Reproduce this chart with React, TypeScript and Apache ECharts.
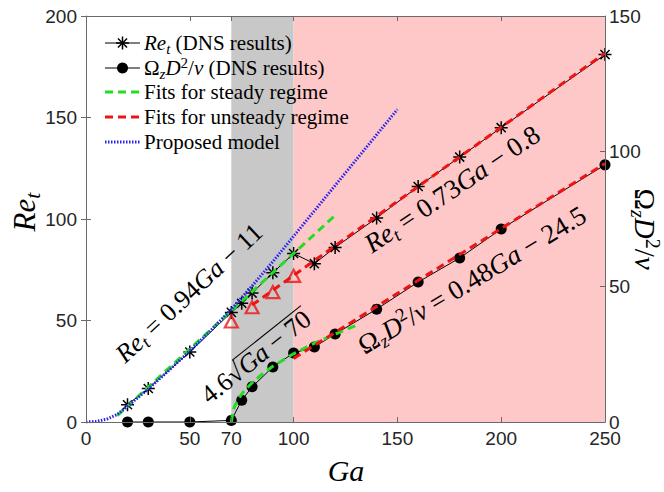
import React, { useEffect, useRef } from 'react';
import * as echarts from 'echarts';

// DNS results: Ga, Re_t (left axis) and Omega_z D^2/nu (right axis)
const gaDns = [20, 30, 50, 70, 75, 80, 90, 100, 110, 120, 140, 160, 180, 200, 250];
const reDns = [8.5, 16.5, 34.5, 54, 58.5, 63.5, 73.5, 83, 78, 86, 100.5, 116, 130.5, 145, 181];
const omegaDns = [0, 0, 0, 0.6, 8, 13, 20.3, 25.5, 27.7, 32.5, 41.7, 51.7, 60.6, 71.3, 95];

// Re_t of the unsteady fit extended into the steady range
const gaTriangles = [70, 80, 90, 100];
const reTriangles = [49.5, 56.5, 64, 72];

// Fits for steady regime
const gaSteadyRe = [15, 120];
const reSteadyFit = [3.1, 101.8]; // 0.94Ga - 11
const gaSteadyOmega = [70, 71, 72, 74, 76, 80, 85, 90, 100, 110, 120, 130];
const omegaSteadyFit = [0, 4.6, 6.5, 9.2, 11.3, 14.5, 17.8, 20.6, 25.2, 29.1, 32.5, 35.6]; // 4.6 sqrt(Ga - 70)

// Fits for unsteady regime
const gaUnsteadyRe = [80, 250];
const reUnsteadyFit = [57.6, 181.7]; // 0.73Ga - 0.8
const gaUnsteadyOmega = [100, 250];
const omegaUnsteadyFit = [23.5, 95.5]; // 0.48Ga - 24.5

// Proposed model
const gaModel = [0, 5, 10, 15, 20, 25, 30, 40, 50, 60, 70, 80, 90, 100, 110, 120, 130, 140, 150];
const reModel = [0, 0.3, 1.4, 3.7, 7.8, 12, 16.3, 25.5, 35, 45, 55.5, 67, 79, 91.5, 104, 116.5, 129, 141.5, 154];

// Regime boundaries: steady | transitional (grey) | unsteady (pink)
const regimeBounds = [70, 100, 250];

const xTickLabels = [0, 50, 70, 100, 150, 200, 250];
const xTickMarks = [50, 70, 100, 150, 200];

const SERIF = '"Liberation Serif", "Times New Roman", serif';
const SANS = '"Liberation Sans", Arial, Helvetica, sans-serif';
const AXIS = '#6a6a6a';
const TICK_TEXT = '#262626';
const GREY = '#c8c8c8';
const PINK = '#ffc8c8';
const GREEN = '#22dd22';
const RED = '#ee1414';
const BLUE = '#2a22ee';

const STAR = 'path://M0,-1L0,1M-1,0L1,0M-0.7,-0.7L0.7,0.7M-0.7,0.7L0.7,-0.7';

const zip = (xs: number[], ys: number[]) => xs.map((x, i) => [x, ys[i]]);
const deg = (d: number) => (d * Math.PI) / 180;

function richSet(size: number) {
  return {
    it: { fontFamily: SERIF, fontStyle: 'italic', fontSize: size },
    rm: { fontFamily: SERIF, fontSize: size },
    sb: { fontFamily: SERIF, fontStyle: 'italic', fontSize: Math.round(size * 0.7), padding: [Math.round(size * 0.5), 0, 0, 0] },
    sp: { fontFamily: SERIF, fontSize: Math.round(size * 0.7), padding: [0, 0, Math.round(size * 0.5), 0] },
  };
}

function mathText(x: number, y: number, rot: number, text: string, size: number, align = 'center') {
  return {
    type: 'text',
    x,
    y,
    rotation: rot,
    z: 100,
    silent: true,
    style: {
      text,
      rich: richSet(size),
      fontFamily: SERIF,
      fontSize: size,
      fill: '#000',
      textAlign: align,
      align,
      textVerticalAlign: 'middle',
      verticalAlign: 'middle',
    },
  };
}

let measureCtx: CanvasRenderingContext2D | null = null;
function textWidth(text: string, font: string) {
  if (!measureCtx) measureCtx = document.createElement('canvas').getContext('2d');
  measureCtx!.font = font;
  return measureCtx!.measureText(text).width;
}

function sqrtAnnotation(x: number, y: number, rot: number, size: number) {
  const reg = `${size}px "Liberation Serif"`;
  const ital = `italic ${size}px "Liberation Serif"`;
  const wA = textWidth('4.6√', reg);
  const wB = textWidth('Ga', ital);
  const wC = textWidth(' − 70', reg);
  const W = wA + wB + wC;
  const barY = -size * 0.47;
  return {
    type: 'group',
    x,
    y,
    rotation: rot,
    z: 100,
    silent: true,
    children: [
      {
        type: 'text',
        z: 100,
        style: {
          text: '{rm|4.6√}{it|Ga}{rm| − 70}',
          rich: richSet(size),
          fontFamily: SERIF,
          fontSize: size,
          fill: '#000',
          textAlign: 'center',
          align: 'center',
          textVerticalAlign: 'middle',
          verticalAlign: 'middle',
        },
      },
      {
        type: 'line',
        z: 100,
        shape: { x1: -W / 2 + wA - 1.5, y1: barY, x2: W / 2 + 1, y2: barY },
        style: { stroke: '#000', lineWidth: 1.1 },
      },
    ],
  };
}

function legendGraphics() {
  const x1 = 105;
  const x2 = 140;
  const xm = (x1 + x2) / 2;
  const tx = 144;
  const rows = [43, 68, 92, 117, 142];
  const els: any[] = [];
  const line = (y: number, stroke: string, width: number, dash?: number[]) => ({
    type: 'line',
    z: 100,
    silent: true,
    shape: { x1, y1: y, x2, y2: y },
    style: { stroke, lineWidth: width, lineDash: dash, lineCap: 'butt' },
  });
  // Re_t: solid line with asterisk
  els.push(line(rows[0], '#000', 1.2));
  const r = 6.5;
  const d = r * 0.7;
  [
    [0, -r, 0, r],
    [-r, 0, r, 0],
    [-d, -d, d, d],
    [-d, d, d, -d],
  ].forEach(([a, b, c, e]) =>
    els.push({
      type: 'line',
      z: 101,
      silent: true,
      shape: { x1: xm + a, y1: rows[0] + b, x2: xm + c, y2: rows[0] + e },
      style: { stroke: '#000', lineWidth: 1.5 },
    })
  );
  // Omega: solid line with filled circle
  els.push(line(rows[1], '#000', 1.2));
  els.push({ type: 'circle', z: 101, silent: true, shape: { cx: xm, cy: rows[1], r: 5.5 }, style: { fill: '#000' } });
  els.push(line(rows[2], GREEN, 3, [8, 5]));
  els.push(line(rows[3], RED, 3, [8, 5]));
  els.push(line(rows[4], BLUE, 3, [1.5, 1.5]));

  const size = 21;
  const texts = [
    '{it|Re}{sb|t} (DNS results)',
    '{rm|Ω}{sb|z}{it|D}{sp|2}{rm|/}{it|ν} (DNS results)',
    'Fits for steady regime',
    'Fits for unsteady regime',
    'Proposed model',
  ];
  texts.forEach((t, i) => els.push(mathText(tx, rows[i], 0, t, size, 'left')));
  return els;
}

function buildOption() {
  const axisLine = { show: true, onZero: false, lineStyle: { color: AXIS, width: 1 } };
  const tickLabel = { fontFamily: SANS, fontSize: 19, color: TICK_TEXT };
  return {
    animation: false,
    backgroundColor: '#fff',
    grid: { left: 86, right: 59, top: 16, bottom: 70, containLabel: false },
    xAxis: [
      {
        type: 'value',
        min: 0,
        max: 250,
        position: 'bottom',
        z: 10,
        axisLine,
        axisTick: { show: true, inside: true, length: 5, customValues: xTickMarks, lineStyle: { color: AXIS } },
        axisLabel: { ...tickLabel, customValues: xTickLabels, margin: 7 },
        splitLine: { show: false },
      },
      {
        type: 'value',
        min: 0,
        max: 250,
        position: 'top',
        z: 10,
        axisLine,
        axisTick: { show: true, inside: true, length: 5, customValues: xTickMarks, lineStyle: { color: AXIS } },
        axisLabel: { show: false },
        splitLine: { show: false },
      },
    ],
    yAxis: [
      {
        type: 'value',
        min: 0,
        max: 200,
        interval: 50,
        position: 'left',
        z: 10,
        axisLine,
        axisTick: { show: true, inside: true, length: 5, lineStyle: { color: AXIS } },
        axisLabel: { ...tickLabel, margin: 9 },
        splitLine: { show: false },
      },
      {
        type: 'value',
        min: 0,
        max: 150,
        interval: 50,
        position: 'right',
        z: 10,
        axisLine,
        axisTick: { show: true, inside: true, length: 5, lineStyle: { color: AXIS } },
        axisLabel: { ...tickLabel, margin: 4 },
        splitLine: { show: false },
      },
      {
        type: 'value',
        min: 0,
        max: 200,
        interval: 50,
        position: 'right',
        z: 10,
        axisLine: { show: false },
        axisTick: { show: true, inside: true, length: 5, lineStyle: { color: AXIS } },
        axisLabel: { show: false },
        splitLine: { show: false },
      },
    ],
    series: [
      {
        name: 'regimes',
        type: 'line',
        xAxisIndex: 0,
        yAxisIndex: 0,
        data: [],
        z: 1,
        silent: true,
        markArea: {
          silent: true,
          data: [
            [{ xAxis: regimeBounds[0], itemStyle: { color: GREY } }, { xAxis: regimeBounds[1] }],
            [{ xAxis: regimeBounds[1], itemStyle: { color: PINK } }, { xAxis: regimeBounds[2] }],
          ],
        },
      },
      {
        name: 'Re_t (DNS)',
        type: 'line',
        xAxisIndex: 0,
        yAxisIndex: 0,
        z: 3,
        data: zip(gaDns, reDns),
        symbol: STAR,
        symbolSize: 13,
        showSymbol: true,
        showAllSymbol: true,
        lineStyle: { color: '#000', width: 1 },
        itemStyle: { color: '#000', borderColor: '#000', borderWidth: 1.5 },
      },
      {
        name: 'Omega (DNS)',
        type: 'line',
        xAxisIndex: 0,
        yAxisIndex: 1,
        z: 3,
        data: zip(gaDns, omegaDns),
        symbol: 'circle',
        symbolSize: 11,
        showSymbol: true,
        showAllSymbol: true,
        lineStyle: { color: '#000', width: 1 },
        itemStyle: { color: '#000' },
      },
      {
        name: 'Re_t unsteady fit points',
        type: 'scatter',
        xAxisIndex: 0,
        yAxisIndex: 0,
        z: 4,
        data: zip(gaTriangles, reTriangles),
        symbol: 'triangle',
        symbolSize: [13, 12],
        itemStyle: { color: 'rgba(0,0,0,0)', borderColor: RED, borderWidth: 2.2 },
      },
      {
        name: 'steady Re fit',
        type: 'line',
        xAxisIndex: 0,
        yAxisIndex: 0,
        z: 5,
        data: zip(gaSteadyRe, reSteadyFit),
        symbol: 'none',
        lineStyle: { color: GREEN, width: 3, type: [8, 5], cap: 'butt' },
      },
      {
        name: 'steady Omega fit',
        type: 'line',
        xAxisIndex: 0,
        yAxisIndex: 1,
        z: 5,
        data: zip(gaSteadyOmega, omegaSteadyFit),
        symbol: 'none',
        lineStyle: { color: GREEN, width: 3, type: [8, 5], cap: 'butt' },
      },
      {
        name: 'unsteady Re fit',
        type: 'line',
        xAxisIndex: 0,
        yAxisIndex: 0,
        z: 5,
        data: zip(gaUnsteadyRe, reUnsteadyFit),
        symbol: 'none',
        lineStyle: { color: RED, width: 3, type: [8, 5], cap: 'butt' },
      },
      {
        name: 'unsteady Omega fit',
        type: 'line',
        xAxisIndex: 0,
        yAxisIndex: 1,
        z: 5,
        data: zip(gaUnsteadyOmega, omegaUnsteadyFit),
        symbol: 'none',
        lineStyle: { color: RED, width: 3, type: [8, 5], cap: 'butt' },
      },
      {
        name: 'Proposed model',
        type: 'line',
        xAxisIndex: 0,
        yAxisIndex: 0,
        z: 6,
        data: zip(gaModel, reModel),
        symbol: 'none',
        lineStyle: { color: BLUE, width: 3, type: [1.5, 1.5], cap: 'butt' },
      },
    ],
    graphic: [
      ...legendGraphics(),
      mathText(189, 293, deg(43), '{it|Re}{sb|t}{rm| = 0.94}{it|Ga}{rm| − 11}', 26),
      sqrtAnnotation(256, 357, deg(38.5), 26),
      mathText(452, 189, deg(34), '{it|Re}{sb|t}{rm| = 0.73}{it|Ga}{rm| − 0.8}', 27),
      mathText(472, 280, deg(31), '{rm|Ω}{sb|z}{it|D}{sp|2}{rm|/}{it|ν}{rm| = 0.48}{it|Ga}{rm| − 24.5}', 27),
      // axis titles
      mathText(24, 212, deg(90), '{it|Re}{sb|t}', 31),
      mathText(346, 470, 0, '{it|Ga}', 30),
      mathText(645, 229, deg(-90), '{rm|Ω}{sb|z}{it|D}{sp|2}{rm|/}{it|ν}', 29),
    ],
  };
}

export default function App() {
  const ref = useRef<HTMLDivElement>(null);
  useEffect(() => {
    document.body.style.margin = '0';
    const chart = echarts.init(ref.current!, null, { renderer: 'svg', width: 664, height: 492 });
    chart.setOption(buildOption() as any);
    return () => chart.dispose();
  }, []);
  return <div ref={ref} style={{ position: 'absolute', left: 0, top: 0, width: 664, height: 492 }} />;
}
